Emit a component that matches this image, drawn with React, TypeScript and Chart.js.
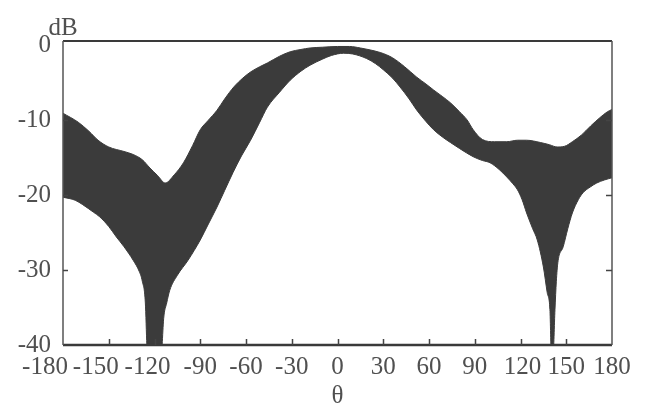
import React, { useEffect, useRef } from "react";
import { Chart, registerables } from "chart.js";

Chart.register(...registerables);

// ---- data ----
const xTickValues = [-180, -150, -120, -90, -60, -30, 0, 30, 60, 90, 120, 150, 180];
const xTickLabels = ["-180", "-150", "-120", "-90", "-60", "-30", "0", "30", "60", "90", "120", "150", "180"];
const yTickValues = [-40, -30, -20, -10, 0];
const yAxisTitle = "dB";
const xAxisTitle = "θ";

const upperTheta = [-180, -170, -163, -157, -150, -140, -134, -128, -123, -118, -113, -107, -101, -95, -90, -85, -79, -74, -68, -62, -57, -51, -46, -38, -31, -24, -18, -10, 0, 8, 15, 20, 28, 36, 44, 52, 58, 63, 69, 74, 80, 85, 89, 95, 103, 111, 118, 124, 133, 139, 144, 149, 154, 160, 166, 172, 177, 180];
const upperDb = [-9.1, -10.3, -11.5, -12.7, -13.6, -14.2, -14.6, -15.3, -16.4, -17.4, -18.4, -17.3, -15.7, -13.4, -11.3, -10.1, -8.7, -7.2, -5.6, -4.4, -3.6, -2.9, -2.4, -1.5, -0.9, -0.6, -0.4, -0.3, -0.2, -0.2, -0.4, -0.6, -1.0, -1.7, -2.9, -4.3, -5.2, -6.0, -6.9, -7.7, -8.9, -10.0, -11.3, -12.6, -12.9, -12.9, -12.7, -12.7, -13.0, -13.3, -13.6, -13.5, -12.9, -12.0, -10.8, -9.7, -8.9, -8.6];

const lowerTheta = [-180, -172, -167, -160, -156, -150, -145, -140, -134, -130, -128, -126, -125, -124, -116, -115, -114, -112, -110, -105, -98, -90, -85, -79, -74, -68.5, -63, -57, -51, -46, -38, -31, -24, -18, -10, -4, 4, 10, 19, 25, 30, 36, 41, 47, 52, 58, 63, 69, 74, 80, 89, 95, 100, 106, 111, 115, 118, 121, 124, 128, 131, 135, 137.5, 139.3, 140.2, 141.4, 142.6, 143.5, 144.5, 148, 151, 154, 158, 161, 166, 170, 175, 180];
const lowerDb = [-20.3, -20.7, -21.3, -22.3, -22.9, -24.2, -25.6, -26.9, -28.7, -30.2, -31.5, -34.4, -40, -43, -43, -40, -36.5, -34.4, -32.7, -30.7, -28.7, -26.0, -24.0, -21.6, -19.4, -17.0, -14.8, -12.7, -10.3, -8.3, -6.3, -4.7, -3.5, -2.7, -1.9, -1.4, -1.1, -1.2, -1.8, -2.5, -3.3, -4.4, -5.6, -7.2, -8.7, -10.2, -11.3, -12.3, -13.0, -13.8, -14.9, -15.4, -15.7, -16.6, -17.6, -18.5, -19.3, -20.6, -22.4, -24.5, -26.0, -29.6, -33.0, -35.3, -41, -41, -35.3, -31.5, -29.0, -26.9, -24.5, -22.4, -20.6, -19.7, -18.9, -18.4, -18.0, -17.7];

const BAND = "#3b3b3b";
const TEXT = "#505050";
const FONT = '"Liberation Serif", "Times New Roman", serif';
const FONT_SIZE = 25;

const labelNudge: Record<string, number> = { "-180": -18, "-150": -13, "-120": -7, "120": 2 };

const framePlugin = {
  id: "frameTicks",
  afterDatasetsDraw(chart: any) {
    const { ctx, chartArea, scales } = chart;
    const { left, right, top, bottom } = chartArea;
    const xs = scales.x;
    const ys = scales.y;
    ctx.save();
    // frame
    ctx.strokeStyle = "#3a3a3a";
    ctx.lineWidth = 2;
    ctx.beginPath();
    ctx.moveTo(left, top);
    ctx.lineTo(right, top);
    ctx.stroke();
    ctx.lineWidth = 2.5;
    ctx.beginPath();
    ctx.moveTo(left, bottom);
    ctx.lineTo(right, bottom);
    ctx.stroke();
    ctx.strokeStyle = "#555";
    ctx.lineWidth = 1.5;
    ctx.beginPath();
    ctx.moveTo(left, top);
    ctx.lineTo(left, bottom);
    ctx.moveTo(right, top);
    ctx.lineTo(right, bottom);
    ctx.stroke();
    // inward ticks
    ctx.strokeStyle = "#444";
    ctx.lineWidth = 1.5;
    ctx.beginPath();
    xTickValues.slice(1, -1).forEach((v) => {
      const px = Math.round(xs.getPixelForValue(v)) + 0.5;
      ctx.moveTo(px, bottom);
      ctx.lineTo(px, bottom - 6);
    });
    yTickValues.slice(1, -1).forEach((v) => {
      const py = Math.round(ys.getPixelForValue(v)) + 0.5;
      ctx.moveTo(left, py);
      ctx.lineTo(left + 5, py);
      ctx.moveTo(right, py);
      ctx.lineTo(right - 6, py);
    });
    ctx.stroke();
    // x labels
    ctx.fillStyle = TEXT;
    ctx.font = `${FONT_SIZE}px ${FONT}`;
    ctx.textAlign = "center";
    ctx.textBaseline = "middle";
    xTickValues.forEach((v, i) => {
      const lbl = xTickLabels[i];
      const px = xs.getPixelForValue(v) + (labelNudge[lbl] || 0);
      ctx.fillText(lbl, px, bottom + 22);
    });
    ctx.fillText(xAxisTitle, (left + right) / 2, bottom + 51);
    ctx.textBaseline = "alphabetic";
    ctx.fillText(yAxisTitle, left, 35);
    ctx.restore();
  },
};

export default function App() {
  const ref = useRef<HTMLCanvasElement | null>(null);
  useEffect(() => {
    if (!ref.current) return;
    const chart = new Chart(ref.current, {
      type: "line",
      data: {
        datasets: [
          {
            data: upperTheta.map((t, i) => ({ x: t, y: upperDb[i] })),
            borderColor: BAND,
            borderWidth: 1,
            pointRadius: 0,
            fill: false,
            cubicInterpolationMode: "monotone",
          },
          {
            data: lowerTheta.map((t, i) => ({ x: t, y: lowerDb[i] })),
            borderColor: BAND,
            borderWidth: 1,
            backgroundColor: BAND,
            pointRadius: 0,
            fill: "-1",
            cubicInterpolationMode: "monotone",
          },
        ],
      },
      options: {
        responsive: false,
        animation: false,
        events: [],
        layout: { padding: { left: 0, right: 40, top: 41, bottom: 0 } },
        plugins: { legend: { display: false }, tooltip: { enabled: false } },
        scales: {
          x: {
            type: "linear",
            min: -180,
            max: 180,
            grid: { display: false, drawTicks: false },
            border: { display: false },
            ticks: { display: false },
            afterBuildTicks: (s: any) => {
              s.ticks = xTickValues.map((v) => ({ value: v }));
            },
            afterFit: (s: any) => {
              s.height = 66;
            },
          },
          y: {
            type: "linear",
            min: -40,
            max: 0.53,
            grid: { display: false, drawTicks: false },
            border: { display: false },
            ticks: {
              color: TEXT,
              font: { family: FONT, size: FONT_SIZE },
              padding: 12,
              callback: (v: any) => String(v),
            },
            afterBuildTicks: (s: any) => {
              s.ticks = yTickValues.map((v) => ({ value: v }));
            },
            afterFit: (s: any) => {
              s.width = 63;
            },
          },
        },
      },
      plugins: [framePlugin],
    } as any);
    return () => chart.destroy();
  }, []);
  return (
    <div style={{ position: "fixed", left: 0, top: 0, width: 652, height: 411, background: "#fff" }}>
      <canvas ref={ref} width={652} height={411} />
    </div>
  );
}
